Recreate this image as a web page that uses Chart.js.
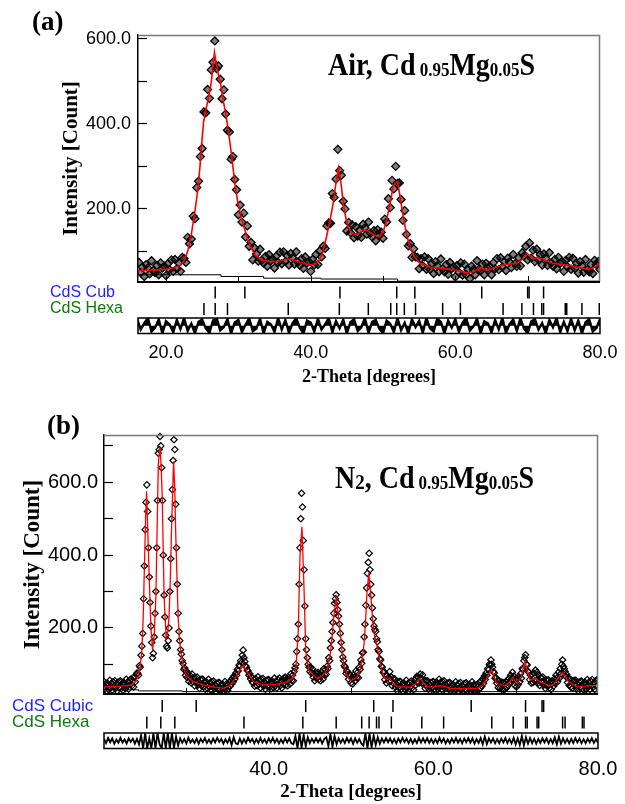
<!DOCTYPE html>
<html><head><meta charset="utf-8">
<script src="https://cdn.jsdelivr.net/npm/chart.js@4.4.1/dist/chart.umd.min.js"></script>
<style>
html,body{margin:0;padding:0;background:#fff;}
#wrap{position:relative;width:625px;height:804px;overflow:hidden;background:#fff;}
canvas{position:absolute;left:0;}
.lbl{position:absolute;font-family:'Liberation Serif','Times New Roman',serif;font-weight:bold;color:#000;white-space:nowrap;line-height:1;transform-origin:0 0;}
.sm{font-size:17px;vertical-align:-1px;}
</style></head><body>
<div id="wrap">
<canvas id="ca" width="625" height="392" style="top:0"></canvas>
<canvas id="cb" width="625" height="409" style="top:395px"></canvas>
<div class="lbl" style="left:32px;top:7px;font-size:27px;transform:scaleY(1.05)">(a)</div>
<div class="lbl" style="left:47px;top:411px;font-size:27px;transform:scaleY(1.05)">(b)</div>
<div class="lbl" style="left:328px;top:49px;font-size:28px;transform:scaleY(1.12)">Air, Cd<span class="sm" style="margin-left:4px">0.95</span>Mg<span class="sm">0.05</span>S</div>
<div class="lbl" style="left:335px;top:462px;font-size:28px;transform:scaleY(1.12)">N<span class="sm" style="font-size:19px">2</span>, Cd<span class="sm" style="margin-left:4px">0.95</span>Mg<span class="sm">0.05</span>S</div>
</div>
<script>
// ---------- Panel (a): Air ----------
const xTicksA = [20, 40, 60, 80];
const xMinorA = [20, 30, 40, 50, 60, 70];
const yTicksA = [100, 200, 300, 400, 500, 600];
const phaseNamesA = ['CdS Cub', 'CdS Hexa'];
const obsStartA = 16.25, obsStepA = 0.25;
const obsA = [
74,50,63,41,69,61,47,78,55,50,67,45,73,61,65,43,
71,57,80,53,81,59,73,53,86,83,74,133,118,129,183,177,
250,265,323,342,428,426,481,460,527,545,595,530,536,505,459,480,
423,385,381,317,323,269,245,186,209,169,190,134,160,112,121,80,
108,94,77,105,79,72,88,65,92,78,82,61,89,74,98,71,
99,76,90,68,95,85,70,99,75,67,83,60,87,73,76,53,
81,68,93,69,101,87,112,107,160,167,166,236,227,270,340,290,
279,218,200,148,168,144,162,132,158,136,150,133,164,155,141,169,
143,134,149,125,151,138,145,131,176,169,224,203,267,247,300,260,
261,222,173,196,140,113,118,86,106,87,86,59,83,66,87,58,
83,58,71,48,76,66,52,82,59,52,69,46,74,60,63,40,
67,51,73,44,70,45,57,36,65,57,45,78,58,55,70,45,
72,60,65,45,73,59,83,57,85,63,76,55,84,75,62,93,
71,65,85,66,97,89,112,80,120,84,103,76,105,80,92,68,
94,83,67,97,73,65,81,59,86,72,76,53,79,64,86,58,
84,60,72,49,76,66,51,81,57,52,69,48,79,69,76,57
];
const calcA = [[16.13,55],[18,56],[20,58],[21,61],[22,67],[22.5,78],[23,100],[23.5,140],[24,195],[24.4,245],[24.7,300],[24.9,347],[25.2,405],[25.6,440],[25.9,462],[26.3,503],[26.5,540],[26.7,568],[26.9,545],[27.2,519],[27.6,490],[27.9,456],[28.3,420],[28.6,386],[29.0,335],[29.3,292],[29.6,250],[29.95,213],[30.4,180],[30.9,151],[31.3,128],[31.8,107],[32.4,90],[33.2,80],[34.6,75],[35.8,78],[36.9,82],[37.6,80],[38.2,76],[39.2,71],[40.1,68],[40.7,72],[41.2,80],[41.7,100],[42.2,135],[42.7,175],[43.1,213],[43.5,262],[43.85,296],[44.2,260],[44.5,213],[44.9,175],[45.2,158],[45.6,144],[46.1,139],[46.7,142],[47.2,150],[47.7,150],[48.2,145],[48.6,140],[49.2,135],[49.6,135],[50.1,150],[50.5,174],[51.0,215],[51.4,252],[51.7,262],[52.0,264],[52.4,225],[52.8,182],[53.2,145],[53.7,111],[54.3,88],[55.1,72],[56.5,63],[58,60],[59.3,58],[60.5,54],[61.6,49],[62.5,52],[63.2,58],[63.6,63],[64.0,57],[64.3,56],[65.5,62],[66.6,68],[67.5,70],[68.5,72],[69.3,82],[69.9,96],[70.4,88],[70.8,82],[71.3,86],[71.7,84],[72.5,78],[73.5,72],[74.7,69],[75.9,66],[77,63],[78.2,58],[79,60],[79.5,66],[80,72]];
const bkgA = [[16.13,45],[27.6,41],[33.5,37],[41.4,35],[52,30],[80,30]];
const cubA = [26.8, 30.9, 44.05, 51.9, 54.4, 63.65, 70.0, 70.2, 72.2];
const hexA = [25.25, 26.8, 28.5, 36.9, 43.96, 47.97, 51.07, 51.9, 52.95, 54.5, 58.25, 60.7, 66.6, 69.2, 70.8, 71.95, 72.2, 75.2, 75.4, 77.5, 79.9];
const diffStartA = 16, diffStepA = 0.5;
const diffA = [
55,-30,20,60,-45,-15,50,-60,35,10,-50,45,-25,60,-40,15,-58,30,48,-20,
-55,40,60,-35,-10,52,-60,25,45,-50,8,58,-42,-22,55,-60,30,12,-48,60,
-30,45,-55,20,58,-15,-60,40,25,-45,55,-30,10,60,-50,35,-20,48,-60,28,
50,-40,-12,60,-55,30,45,-25,-58,40,15,-50,60,-35,22,-60,50,-10,38,-55,
60,-20,-45,55,30,-60,40,-15,52,-48,25,60,-38,-5,55,-60,35,18,-52,45,
-28,60,-55,12,48,-40,58,-22,-60,35,50,-30,20,-58,45,-12,60,-50,30,-42,
55,-35,40,-60,25,52,-45,-18,50
];

// ---------- Panel (b): N2 ----------
const xTicksB = [40, 60, 80];
const xMinorB = [30, 40, 50, 60, 70];
const yTicksB = [100, 200, 300, 400, 500, 600, 700];
const phaseNamesB = ['CdS Cubic', 'CdS Hexa'];
const obsStartB = 20.0, obsStepB = 0.1;
const obsB = [
// 20.0-23.0
53,32,45,27,49,41,30,56,36,48,29,52,40,55,34,45,27,51,36,53,55,34,47,29,51,44,33,59,40,52,32,
// 23.1-24.0
56,44,60,41,54,38,64,52,72,76,
// 24.1-30.0
75,70,96,92,125,150,185,280,370,470,
545,593,520,420,340,270,205,160,118,130,
175,240,300,420,550,680,690,726,700,640,
550,400,290,230,180,150,145,165,200,300,
390,500,580,660,717,690,540,420,320,240,
190,165,140,128,110,102,86,90,70,82,
// 30.1-35.0
64,74,53,71,61,49,73,52,62,41,
63,51,65,43,53,34,58,42,59,59,
38,50,32,53,45,33,59,38,50,29,
52,39,54,33,43,25,48,33,50,50,
29,42,23,45,37,26,53,34,47,28,
// 35.1-38.0
34,50,40,56,45,62,52,68,60,76,
70,86,82,98,95,110,105,125,139,118,
108,96,92,84,82,70,74,60,66,52,
// 38.1-43.0
49,59,40,61,53,41,66,45,57,36,
59,46,61,40,50,32,56,40,57,58,
37,50,33,55,47,36,62,42,54,35,
58,46,62,41,52,35,59,45,62,65,
44,58,41,64,57,46,74,56,70,55,
// 43.1-45.0
80,90,100,135,170,210,320,420,500,570,
532,440,360,260,170,140,118,100,92,80,
// 45.1-47.0
91,76,88,65,74,55,77,61,76,78,
58,72,55,78,70,60,88,71,86,72,
// 47.1-49.5
95,88,118,110,145,165,190,215,240,268,
280,291,270,250,232,210,185,160,140,120,
110,96,92,75,82,
// 49.6-51.5
79,59,72,71,49,63,46,70,63,54,
82,63,78,63,92,86,112,103,131,133,
// 51.6-54.0
175,210,262,310,350,380,405,360,320,290,
255,225,205,196,190,170,162,140,135,115,
112,95,92,78,80,
// 54.1-57.0
58,69,49,69,63,53,80,56,65,41,
61,47,60,37,46,27,51,36,53,53,
32,45,27,49,41,30,56,35,47,27,
// 57.1-60.0
50,38,54,35,47,30,56,42,62,67,
49,65,49,73,62,48,71,48,57,34,
55,40,55,34,45,27,50,35,52,53,
// 60.1-65.0
32,46,28,51,43,32,59,39,51,31,
53,41,55,34,44,25,48,33,49,50,
28,41,23,45,37,26,52,32,44,24,
47,35,50,29,40,22,46,31,48,49,
28,41,23,45,37,26,52,32,44,24,
// 65.1-68.0
26,44,27,46,30,50,34,54,40,60,
48,68,58,76,70,88,85,100,98,112,
100,92,80,76,62,64,48,56,36,54,
// 68.1-71.0
34,52,32,50,31,50,32,52,36,56,
42,62,50,70,58,78,60,68,42,60,
38,60,44,66,52,74,62,88,86,110,
// 71.1-73.0
118,126,100,98,80,78,58,70,48,72,
50,76,54,84,56,78,48,70,42,64,
// 73.1-77.0
64,51,65,43,53,34,57,41,57,57,
35,48,31,54,48,40,60,48,70,62,
52,78,62,88,74,100,112,94,88,80,
66,72,50,64,42,58,38,56,35,54,
// 77.1-80.0
56,42,56,34,45,27,51,36,53,54,
34,47,29,51,43,32,58,39,51,31,
54,42,58,37,48,31,55,40,58,59
];
const calcB = [[20.0,38],[21,39],[22,40],[23.3,43],[23.8,52],[24.1,66],[24.4,95],[24.6,139],[24.75,220],[24.9,359],[25.05,500],[25.17,575],[25.3,480],[25.5,332],[25.7,200],[25.9,139],[26.1,180],[26.3,286],[26.45,470],[26.6,652],[26.8,698],[26.95,640],[27.07,561],[27.3,286],[27.55,172],[27.75,190],[27.9,231],[28.05,330],[28.2,469],[28.45,657],[28.6,580],[28.7,469],[29.0,231],[29.15,175],[29.3,139],[29.6,100],[29.9,75],[30.4,60],[30.9,52],[32,44],[33,39],[34.6,34],[35.3,42],[35.8,57],[36.4,80],[36.9,98],[37.5,75],[38.2,52],[39,46],[39.8,43],[41,45],[42.3,52],[43,65],[43.3,85],[43.6,194],[43.8,396],[44.04,478],[44.3,304],[44.5,139],[44.7,105],[44.9,85],[45.4,70],[45.9,62],[46.5,68],[47.1,85],[47.5,130],[47.7,176],[48.0,250],[48.2,282],[48.4,245],[48.65,194],[48.9,140],[49.1,103],[49.4,78],[49.7,62],[49.94,55],[50.4,60],[50.75,66],[51.1,85],[51.36,112],[51.6,160],[51.76,213],[51.95,300],[52.16,350],[52.4,290],[52.6,231],[52.8,185],[53.0,167],[53.2,145],[53.4,121],[53.7,88],[54.0,66],[54.4,58],[54.7,62],[55.1,48],[55.6,39],[57.2,37],[57.8,45],[58.1,55],[58.4,62],[58.8,50],[59.2,39],[60.0,38],[60.5,40],[61.0,41],[61.5,38],[62.06,34],[65.3,34],[65.8,40],[66.3,52],[66.7,72],[67.03,86],[67.4,66],[67.7,48],[68.7,41],[69.2,50],[69.65,64],[70.1,48],[70.4,55],[70.7,66],[70.95,92],[71.15,107],[71.4,85],[71.75,57],[72.1,58],[72.4,62],[72.97,52],[74.2,41],[74.6,45],[75.0,57],[75.4,70],[75.7,77],[76.0,68],[76.4,52],[77.4,39],[78.5,40],[79.8,43],[80,44]];
const bkgB = [[20,30],[24.2,27],[29.5,25],[80,24]];
const cubB = [27.07, 31.2, 44.5, 52.76, 55.1, 64.6, 71.2, 73.2, 73.4];
const hexB = [25.2, 26.9, 28.6, 37.0, 44.15, 48.2, 51.3, 52.2, 53.1, 53.4, 54.9, 58.6, 61.25, 67.1, 69.7, 71.2, 71.4, 72.6, 72.8, 75.7, 76.0, 78.1, 78.3];
const diffStartB = 20, diffStepB = 0.25;
const diffB = [
30,-40,45,-25,38,-50,20,-35,48,-30,25,-45,40,-20,35,-48,
30,-60,90,-125,125,-125,40,-125,125,-125,125,-60,-125,125,-125,125,-125,125,-120,70,
-80,40,-35,28,-45,50,-30,22,-40,35,-48,30,-25,45,-38,20,-42,36,-30,48,
-22,30,-50,25,-35,44,-70,60,-45,-60,38,-45,28,-40,50,-20,33,-44,26,-38,
46,-30,24,-42,38,-26,48,-34,30,-46,22,-38,44,-30,36,-40,-60,80,-125,125,
-120,100,-90,60,-40,35,-30,42,-25,38,-45,30,60,-90,110,-100,80,-60,40,-35,
30,-40,45,-25,38,-50,40,-35,30,-45,-80,120,-125,125,-110,90,-70,60,-50,38,
-30,45,-25,40,-38,28,-45,35,-30,48,-22,36,-40,30,-45,25,-38,50,-32,40,
-28,44,-36,30,-42,26,-38,48,-30,35,-44,22,-40,36,-28,46,-34,30,-42,38,
-26,44,-32,40,-48,28,-36,45,-60,70,-55,40,-30,38,-44,26,-40,35,-30,46,
-38,30,-45,50,-60,40,-70,80,-75,60,-50,45,-40,35,-48,30,-36,42,-28,38,
-44,30,-40,55,-62,70,-50,40,-36,28,-44,32,-38,46,-30,36,-42,26,-40,34,
-30,44,-36,28,-40
];

const phaseColors = ['#1f1fff', '#0b7a0b'];
const SANS = "'Liberation Sans', Arial, sans-serif";
const SERIF = "'Liberation Serif', 'Times New Roman', serif";

const boxPlugin = {
  id: 'boxes',
  afterDatasetsDraw(chart, args, opts) {
    const ctx = chart.ctx;
    const {left, right} = chart.chartArea;
    const y = chart.scales.y, yd = chart.scales.yD, x = chart.scales.x;
    ctx.save();
    ctx.lineWidth = 1.5;
    ctx.strokeStyle = '#7a7a7a';
    ctx.beginPath();
    ctx.moveTo(left, y.top + 0.5); ctx.lineTo(right - 0.5, y.top + 0.5); ctx.lineTo(right - 0.5, y.bottom);
    ctx.stroke();
    ctx.strokeStyle = '#000';
    ctx.lineWidth = 2;
    ctx.beginPath(); ctx.moveTo(left, y.bottom); ctx.lineTo(right, y.bottom); ctx.stroke();
    ctx.lineWidth = 1;
    for (const v of opts.minorX) {
      const px = Math.round(x.getPixelForValue(v)) + 0.5;
      ctx.beginPath(); ctx.moveTo(px, y.bottom); ctx.lineTo(px, y.bottom - 6); ctx.stroke();
    }
    ctx.lineWidth = 1.5;
    ctx.strokeRect(left, yd.top, right - left, yd.bottom - yd.top);
    ctx.restore();
  }
};

function build(canvasId, s) {
  const pts = a => a.map(p => ({x: p[0], y: p[1]}));
  return new Chart(document.getElementById(canvasId), {
    type: 'scatter',
    data: { datasets: [
      { type: 'line', label: 'calc', data: pts(s.calc), yAxisID: 'y', borderColor: '#ff0000', borderWidth: s.calcW, pointRadius: 0, tension: 0, fill: false, order: 0 },
      { type: 'line', label: 'bkg', data: pts(s.bkg), yAxisID: 'y', borderColor: '#000', borderWidth: 1, pointRadius: 0, stepped: true, fill: false, order: 1 },
      { label: 'obs', data: s.obs.map((v, i) => ({x: s.obsStart + i * s.obsStep, y: v})), yAxisID: 'y',
        pointStyle: 'rectRot', pointRadius: s.obsR, pointBorderColor: '#000', pointBackgroundColor: s.obsFill, pointBorderWidth: s.obsBW,
        clip: {left: 0, right: 0, top: 6, bottom: 0}, order: 2 },
      { label: 'cub', data: s.cub.map(v => ({x: v, y: s.rowCub})), yAxisID: 'yT',
        pointStyle: 'line', pointRotation: 90, pointRadius: 6, pointBorderColor: '#000', pointBorderWidth: 1.5, clip: false, order: 3 },
      { label: 'hexa', data: s.hex.map(v => ({x: v, y: s.rowHex})), yAxisID: 'yT',
        pointStyle: 'line', pointRotation: 90, pointRadius: 6, pointBorderColor: '#000', pointBorderWidth: 1.5, clip: false, order: 3 },
      { type: 'line', label: 'diff', data: s.diff.map((v, i) => ({x: s.diffStart + i * s.diffStep, y: v})), yAxisID: 'yD',
        borderColor: '#000', borderWidth: s.diffW, pointRadius: 0, tension: 0, fill: s.diffFill ? 'origin' : false, backgroundColor: '#000', order: 4 }
    ]},
    options: {
      responsive: false, animation: false, devicePixelRatio: 1, events: [],
      layout: { padding: s.pad },
      plugins: { legend: {display: false}, tooltip: {enabled: false}, boxes: {minorX: s.minorX} },
      scales: {
        x: { type: 'linear', position: 'bottom', min: s.xMin, max: s.xMax,
          grid: {display: false, drawTicks: true, tickLength: s.xLabelPad}, border: {display: false},
          ticks: {padding: 0, color: '#000', font: {family: SANS, size: s.tickFont}, maxRotation: 0, autoSkip: false,
            callback: v => Number(v).toFixed(1)},
          afterBuildTicks: sc => { sc.ticks = s.xTicks.map(v => ({value: v})); },
          title: {display: true, text: '2-Theta [degrees]', color: '#000', font: {family: SERIF, size: s.xTitleFont, weight: 'bold'}, padding: {top: 0, bottom: s.xTitlePad}},
          afterFit: sc => { sc.height = s.xAxisH; } },
        y: { type: 'linear', position: 'left', stack: 'p', stackWeight: s.wMain, weight: 3, min: s.yMin, max: s.yMax,
          grid: {display: true, drawOnChartArea: false, drawTicks: true, tickLength: -9, color: '#000', tickColor: '#000', tickWidth: 1.2},
          border: {display: true, color: '#000', width: 1.5},
          ticks: {padding: s.yLabelPad, color: '#000', font: {family: SANS, size: s.tickFont}, autoSkip: false,
            callback: v => (v % 200 === 0 ? Number(v).toFixed(1) : '')},
          afterBuildTicks: sc => { sc.ticks = s.yTicks.map(v => ({value: v})); },
          title: {display: true, text: 'Intensity [Count]', color: '#000', font: {family: SERIF, size: s.yTitleFont, weight: 'bold'}, padding: {top: s.yTitlePad, bottom: 0}},
          afterFit: sc => { sc.width = s.yW; } },
        yT: { type: 'linear', position: 'left', stack: 'p', stackWeight: s.wTicks, weight: 2, min: 0, max: 1,
          grid: {display: false, drawTicks: false}, border: {display: false},
          ticks: {crossAlign: 'far', padding: 0, autoSkip: false, font: {family: SANS, size: s.phaseFont},
            color: c => phaseColors[c.index], callback: (v, i) => s.phases[i]},
          afterBuildTicks: sc => { sc.ticks = [{value: s.rowCub}, {value: s.rowHex}]; },
          afterFit: sc => { sc.width = s.yW; } },
        yD: { type: 'linear', position: 'left', stack: 'p', stackWeight: s.wDiff, weight: 1, min: -s.dMax, max: s.dMax,
          grid: {display: false, drawTicks: false}, border: {display: false}, ticks: {display: false},
          afterFit: sc => { sc.width = s.yW; } }
      }
    },
    plugins: [boxPlugin]
  });
}

build('ca', {
  calc: calcA, bkg: bkgA, obs: obsA, obsStart: obsStartA, obsStep: obsStepA, obsR: 4, obsBW: 1.3, obsFill: 'rgba(0,0,0,0.5)',
  cub: cubA, hex: hexA, diff: diffA, diffStart: diffStartA, diffStep: diffStepA,
  xTicks: xTicksA, yTicks: yTicksA, minorX: xMinorA, phases: phaseNamesA,
  xMin: 16.13, xMax: 80, yMin: 28, yMax: 609, dMax: 60,
  pad: {top: 35, left: 50, right: 25, bottom: 0},
  wMain: 247, wTicks: 36, wDiff: 15.5, rowCub: 0.71, rowHex: 0.25,
  yW: 88, xAxisH: 58.5, xLabelPad: 8.7, xTitlePad: 4.2, yLabelPad: 16, yTitlePad: 9.4,
  tickFont: 18, xTitleFont: 18, yTitleFont: 21, phaseFont: 16,
  calcW: 1.6, diffW: 2.4, diffFill: true
});

build('cb', {
  calc: calcB, bkg: bkgB, obs: obsB, obsStart: obsStartB, obsStep: obsStepB, obsR: 3.2, obsBW: 1.2, obsFill: 'rgba(255,255,255,0)',
  cub: cubB, hex: hexB, diff: diffB, diffStart: diffStartB, diffStep: diffStepB,
  xTicks: xTicksB, yTicks: yTicksB, minorX: xMinorB, phases: phaseNamesB,
  xMin: 20, xMax: 80, yMin: 18.5, yMax: 730, dMax: 130,
  pad: {top: 40, left: 12, right: 27, bottom: 0},
  wMain: 259, wTicks: 39, wDiff: 15.5, rowCub: 0.69, rowHex: 0.27,
  yW: 92, xAxisH: 55.5, xLabelPad: 8.5, xTitlePad: 1, yLabelPad: 15, yTitlePad: 7.2,
  tickFont: 20, xTitleFont: 19, yTitleFont: 23, phaseFont: 17,
  calcW: 1.3, diffW: 1.8, diffFill: false
});
</script>
</body></html>
